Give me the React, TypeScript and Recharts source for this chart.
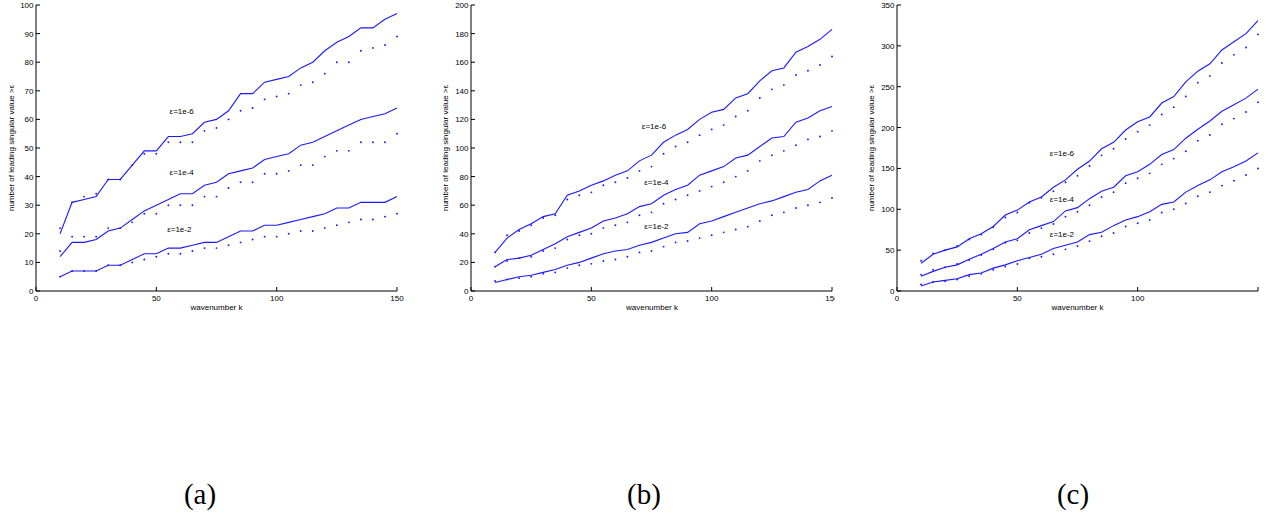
import React from 'react';
import { LineChart, Line, XAxis, YAxis, ReferenceDot } from 'recharts';

// wavenumber k
const K = [10, 15, 20, 25, 30, 35, 40, 45, 50, 55, 60, 65, 70, 75, 80, 85, 90, 95, 100, 105, 110, 115, 120, 125, 130, 135, 140, 145, 150];

// panel (a)
const A_S6 = [20, 31, 32, 33, 39, 39, 44, 49, 49, 54, 54, 55, 59, 60, 63, 69, 69, 73, 74, 75, 78, 80, 84, 87, 89, 92, 92, 95, 97];
const A_D6 = [22, 31, 33, 34, 39, 39, 44, 48, 48, 52, 52, 52, 56, 57, 60, 63, 64, 67, 68, 69, 72, 73, 76, 80, 80, 84, 85, 86, 89];
const A_S4 = [12, 17, 17, 18, 21, 22, 25, 28, 30, 32, 34, 34, 37, 38, 41, 42, 43, 46, 47, 48, 51, 52, 54, 56, 58, 60, 61, 62, 64];
const A_D4 = [14, 19, 19, 19, 22, 22, 24, 27, 27, 30, 30, 30, 33, 33, 36, 38, 38, 41, 41, 42, 44, 44, 47, 49, 49, 52, 52, 52, 55];
const A_S2 = [5, 7, 7, 7, 9, 9, 11, 13, 13, 15, 15, 16, 17, 17, 19, 21, 21, 23, 23, 24, 25, 26, 27, 29, 29, 31, 31, 31, 33];
const A_D2 = [5, 7, 7, 7, 9, 9, 10, 11, 12, 13, 13, 14, 15, 15, 16, 17, 18, 19, 19, 20, 21, 21, 22, 23, 24, 25, 25, 26, 27];

// panel (b)
const B_S6 = [27, 37, 43, 47, 52, 54, 67, 70, 74, 77, 81, 84, 91, 95, 104, 109, 113, 120, 125, 127, 135, 138, 147, 154, 156, 167, 171, 176, 183];
const B_D6 = [27, 39, 42, 46, 51, 53, 64, 67, 69, 74, 76, 79, 84, 87, 96, 101, 104, 109, 113, 116, 122, 126, 135, 141, 144, 151, 154, 158, 164];
const B_S4 = [17, 22, 23, 25, 29, 33, 38, 41, 44, 49, 51, 54, 59, 61, 67, 71, 74, 81, 84, 87, 93, 95, 101, 107, 108, 118, 121, 126, 129];
const B_D4 = [17, 21, 23, 24, 28, 30, 36, 39, 40, 44, 46, 48, 53, 55, 61, 64, 67, 70, 73, 76, 80, 84, 91, 95, 98, 102, 106, 108, 112];
const B_S2 = [6, 8, 10, 11, 13, 15, 18, 20, 23, 26, 28, 29, 32, 34, 37, 40, 41, 47, 49, 52, 55, 58, 61, 63, 66, 69, 71, 77, 81];
const B_D2 = [7, 8, 9, 10, 12, 13, 16, 18, 19, 21, 22, 24, 27, 28, 31, 34, 35, 37, 39, 41, 43, 45, 49, 53, 55, 58, 60, 62, 65];

// panel (c)
const C_S6 = [34, 45, 50, 54, 64, 70, 79, 93, 99, 109, 115, 127, 136, 149, 159, 174, 182, 197, 207, 213, 230, 238, 256, 269, 278, 295, 305, 315, 331];
const C_D6 = [37, 46, 50, 55, 63, 69, 78, 90, 96, 108, 114, 122, 133, 141, 153, 166, 174, 186, 195, 203, 216, 225, 238, 255, 263, 279, 289, 298, 314];
const C_S4 = [18, 24, 29, 32, 39, 45, 52, 60, 64, 75, 80, 85, 98, 102, 113, 122, 127, 141, 146, 155, 167, 173, 187, 198, 208, 220, 228, 236, 247];
const C_D4 = [20, 26, 29, 33, 38, 44, 51, 59, 62, 71, 77, 82, 91, 97, 105, 115, 121, 132, 138, 144, 155, 162, 171, 184, 191, 204, 211, 219, 231];
const C_S2 = [6, 11, 13, 15, 20, 22, 28, 32, 37, 41, 45, 52, 56, 60, 69, 72, 80, 87, 91, 97, 106, 109, 121, 129, 136, 146, 152, 159, 169];
const C_D2 = [8, 11, 12, 14, 18, 21, 26, 30, 33, 40, 42, 45, 51, 55, 61, 67, 71, 79, 83, 87, 96, 100, 107, 116, 121, 129, 135, 142, 150];

// tick labels
const X_TICKS = [0, 50, 100, 150];
const A_Y_TICKS = [0, 10, 20, 30, 40, 50, 60, 70, 80, 90, 100];
const B_Y_TICKS = [0, 20, 40, 60, 80, 100, 120, 140, 160, 180, 200];
const C_Y_TICKS = [0, 50, 100, 150, 200, 250, 300, 350];

// annotation texts and their anchors (data units)
const EPS_LABELS = ['ε=1e-6', 'ε=1e-4', 'ε=1e-2'];
const A_LABEL_X = [55.5, 55.5, 54.5];
const A_LABEL_Y = [63, 41.5, 21.5];
const B_LABEL_X = [71, 72, 72];
const B_LABEL_Y = [115, 76, 45.5];
const C_LABEL_X = [63.5, 63.5, 63.5];
const C_LABEL_Y = [169, 113, 69];

const X_TITLE = 'wavenumber k';
const Y_TITLE = 'number of leading singular value >ε';
const CAPTIONS = ['(a)', '(b)', '(c)'];

const BLUE = '#1a1aff';
const FONT = '"Liberation Sans", Arial, Helvetica, sans-serif';

const build = (s6: number[], d6: number[], s4: number[], d4: number[], s2: number[], d2: number[]) =>
  K.map((k, i) => ({ k, s6: s6[i], d6: d6[i], s4: s4[i], d4: d4[i], s2: s2[i], d2: d2[i] }));

const BottomTick = (hideLast: boolean) => (p: any) => {
  const v = p.payload.value;
  return (
    <g>
      <line x1={p.x} x2={p.x} y1={p.y} y2={p.y - 4} stroke="#000" strokeWidth={1} />
      {hideLast && v === 150 ? null : (
        <text x={p.x} y={p.y + 10} textAnchor="middle" fontSize={8} fontFamily={FONT} fill="#000">
          {v}
        </text>
      )}
    </g>
  );
};
const TopTick = (p: any) => (
  <line x1={p.x} x2={p.x} y1={p.y} y2={p.y + 4} stroke="#000" strokeWidth={1} />
);
const LeftTick = (p: any) => (
  <g>
    <line x1={p.x} x2={p.x + 4} y1={p.y} y2={p.y} stroke="#000" strokeWidth={1} />
    <text x={p.x - 2.5} y={p.y + 3} textAnchor="end" fontSize={8} fontFamily={FONT} fill="#000">
      {p.payload.value}
    </text>
  </g>
);
const RightTick = (p: any) => (
  <line x1={p.x} x2={p.x - 4} y1={p.y} y2={p.y} stroke="#000" strokeWidth={1} />
);

type PanelProps = {
  data: any[];
  yMax: number;
  yTicks: number[];
  lx: number[];
  ly: number[];
  left: number;
  clip: number;
  hideLast: boolean;
};

const Panel = ({ data, yMax, yTicks, lx, ly, left, clip, hideLast }: PanelProps) => (
  <div style={{ position: 'absolute', left, top: 0, width: clip, height: 330, overflow: 'hidden' }}>
    <LineChart width={410} height={330} data={data} margin={{ top: 5, right: 13, bottom: 9, left: 0 }}>
      <XAxis
        xAxisId="b"
        dataKey="k"
        type="number"
        domain={[0, 150]}
        ticks={X_TICKS}
        interval={0}
        height={30}
        tickSize={0}
        tickMargin={0}
        tickLine={false}
        axisLine={{ stroke: '#000' }}
        tick={BottomTick(hideLast)}
      />
      <XAxis
        xAxisId="t"
        orientation="top"
        dataKey="k"
        type="number"
        domain={[0, 150]}
        ticks={X_TICKS}
        interval={0}
        height={0}
        tickSize={0}
        tickMargin={0}
        tickLine={false}
        axisLine={{ stroke: '#000' }}
        tick={TopTick}
      />
      <YAxis
        yAxisId="l"
        type="number"
        domain={[0, yMax]}
        ticks={yTicks}
        interval={0}
        width={36}
        tickSize={0}
        tickMargin={0}
        tickLine={false}
        axisLine={{ stroke: '#000' }}
        tick={LeftTick}
      />
      <YAxis
        yAxisId="r"
        orientation="right"
        type="number"
        domain={[0, yMax]}
        ticks={yTicks}
        interval={0}
        width={0}
        tickSize={0}
        tickMargin={0}
        tickLine={false}
        axisLine={{ stroke: '#000' }}
        tick={RightTick}
      />
      {['s6', 's4', 's2'].map((key) => (
        <Line
          key={key}
          xAxisId="b"
          yAxisId="l"
          dataKey={key}
          type="linear"
          stroke={BLUE}
          strokeWidth={1.1}
          dot={false}
          isAnimationActive={false}
        />
      ))}
      {['d6', 'd4', 'd2'].map((key) => (
        <Line
          key={key}
          xAxisId="b"
          yAxisId="l"
          dataKey={key}
          type="linear"
          stroke="none"
          dot={{ r: 0.95, fill: BLUE, stroke: 'none' }}
          isAnimationActive={false}
        />
      ))}
      {EPS_LABELS.map((t, i) => (
        <ReferenceDot
          key={t}
          xAxisId="b"
          yAxisId="l"
          x={lx[i]}
          y={ly[i]}
          r={0}
          fill="none"
          stroke="none"
          label={{ value: t, position: 'right', offset: 0, fontSize: 8, fill: '#000', fontFamily: FONT }}
        />
      ))}
    </LineChart>
  </div>
);

const A_DATA = build(A_S6, A_D6, A_S4, A_D4, A_S2, A_D2);
const B_DATA = build(B_S6, B_D6, B_S4, B_D4, B_S2, B_D2);
const C_DATA = build(C_S6, C_D6, C_S4, C_D4, C_S2, C_D2);

const PLOT_CENTERS = [216.5, 652, 1077.5];
const YTITLE_X = [13.5, 448, 873.5];
const CAPTION_X = [200, 644, 1073];

export default function App() {
  return (
    <div style={{ position: 'absolute', left: 0, top: 0, width: 1287, height: 518, background: '#fff', overflow: 'hidden' }}>
      <Panel data={A_DATA} yMax={100} yTicks={A_Y_TICKS} lx={A_LABEL_X} ly={A_LABEL_Y} left={0} clip={410} hideLast={false} />
      <Panel data={B_DATA} yMax={200} yTicks={B_Y_TICKS} lx={B_LABEL_X} ly={B_LABEL_Y} left={435} clip={400} hideLast={false} />
      <Panel data={C_DATA} yMax={350} yTicks={C_Y_TICKS} lx={C_LABEL_X} ly={C_LABEL_Y} left={861} clip={410} hideLast={true} />
      <svg width={1287} height={518} style={{ position: 'absolute', left: 0, top: 0, pointerEvents: 'none' }}>
        {PLOT_CENTERS.map((cx, i) => (
          <text key={'x' + i} x={cx} y={310} textAnchor="middle" fontSize={8} fontFamily={FONT} fill="#000">
            {X_TITLE}
          </text>
        ))}
        {YTITLE_X.map((x, i) => (
          <text key={'y' + i} transform={`translate(${x},148) rotate(-90)`} textAnchor="middle" fontSize={8} fontFamily={FONT} fill="#000">
            {Y_TITLE}
          </text>
        ))}
        {CAPTION_X.map((x, i) => (
          <text key={'c' + i} x={x} y={504} textAnchor="middle" fontSize={29} fontFamily='"Liberation Serif", "DejaVu Serif", serif' fill="#000">
            {CAPTIONS[i]}
          </text>
        ))}
      </svg>
    </div>
  );
}
